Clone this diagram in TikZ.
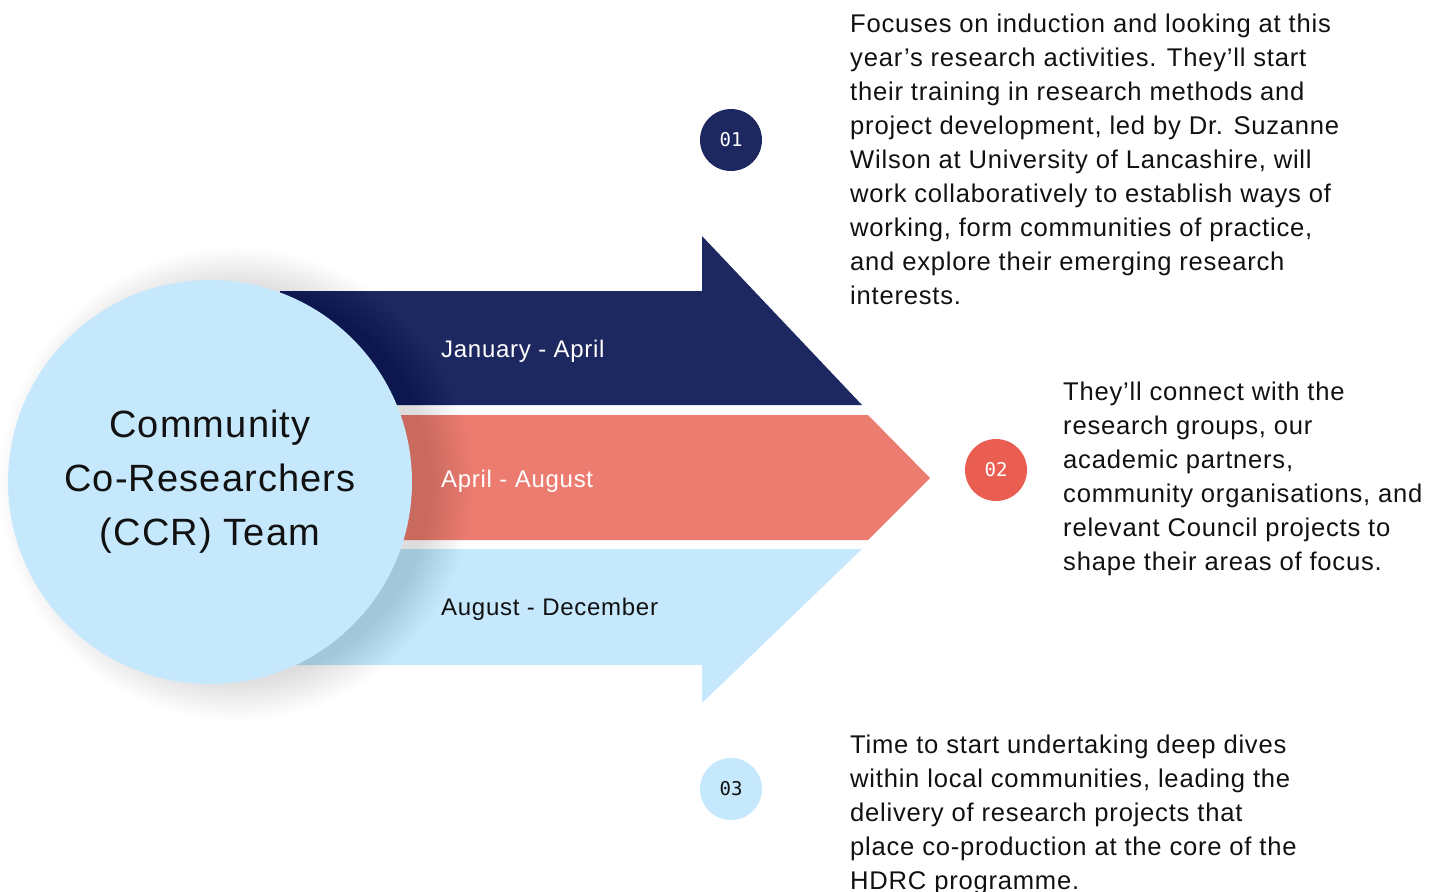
\documentclass[tikz,border=0pt]{standalone}
\usepackage{fontspec}
\setmainfont[LetterSpace=3]{Liberation Sans}
\newfontfamily\numfont{DejaVu Sans Mono}
\usepackage{tikz}
\usetikzlibrary{positioning}
\definecolor{ccrnavy}{HTML}{1E2860}
\definecolor{ccrsalmon}{HTML}{EC7B70}
\definecolor{ccrred}{HTML}{E95E50}
\definecolor{ccrsky}{HTML}{C6E8FD}
\definecolor{ccrink}{HTML}{111111}

\begin{document}
\begin{tikzpicture}[x=1pt,y=-1pt,
  blurb/.style={anchor=north west,inner sep=0pt,align=left,text=ccrink,font=\fontsize{25.6}{34}\selectfont},
  stage/.style={anchor=west,inner sep=0pt,font=\fontsize{24}{28}\selectfont},
  badge/.style={circle,minimum size=62pt,inner sep=0pt,font=\numfont\fontsize{19}{20}\selectfont}]
\useasboundingbox (0,0) rectangle (1444,892);
% three stage arrows
\fill[ccrnavy] (280,291) -- (702,291) -- (702,236) -- (862,405) -- (280,405) -- cycle;
\fill[ccrsalmon] (280,415) -- (868,415) -- (930,478) -- (868,540) -- (280,540) -- cycle;
\fill[ccrsky] (280,549) -- (862,549) -- (702,703) -- (702,665) -- (280,665) -- cycle;
% soft glow round the team circle
\foreach \r in {0,...,16}
  \fill[black,opacity=0.007] (236,484) circle ({196+2.5*\r});
\node[circle,fill=ccrsky,minimum size=404pt,inner sep=0pt,align=center,text=ccrink,font=\fontsize{38}{54}\selectfont] (team) at (210,482) {Community\\Co-Researchers\\(CCR) Team};
\node[stage,text=white] (jan) at (441,351) {January - April};
\node[stage,text=white] (apr) at (441,481) {April - August};
\node[stage,text=ccrink] (aug) at (441,609) {August - December};
% numbered badges
\node[badge,fill=ccrnavy,text=white] (b1) at (731,140) {01};
\node[badge,fill=ccrred,text=white] (b2) at (996,470) {02};
\node[badge,fill=ccrsky,text=ccrink] (b3) at (731,789) {03};
\node[blurb] (t1) at (850,14) {Focuses on induction and looking at this\\
year’s research activities. They’ll start\\
their training in research methods and\\
project development, led by Dr. Suzanne\\
Wilson at University of Lancashire, will\\
work collaboratively to establish ways of\\
working, form communities of practice,\\
and explore their emerging research\\
interests.};
\node[blurb] (t2) at (1063,382) {They’ll connect with the\\
research groups, our\\
academic partners,\\
community organisations, and\\
relevant Council projects to\\
shape their areas of focus.};
\node[blurb] (t3) at (850,735) {Time to start undertaking deep dives\\
within local communities, leading the\\
delivery of research projects that\\
place co-production at the core of the\\
HDRC programme.};
\end{tikzpicture}
\end{document}
